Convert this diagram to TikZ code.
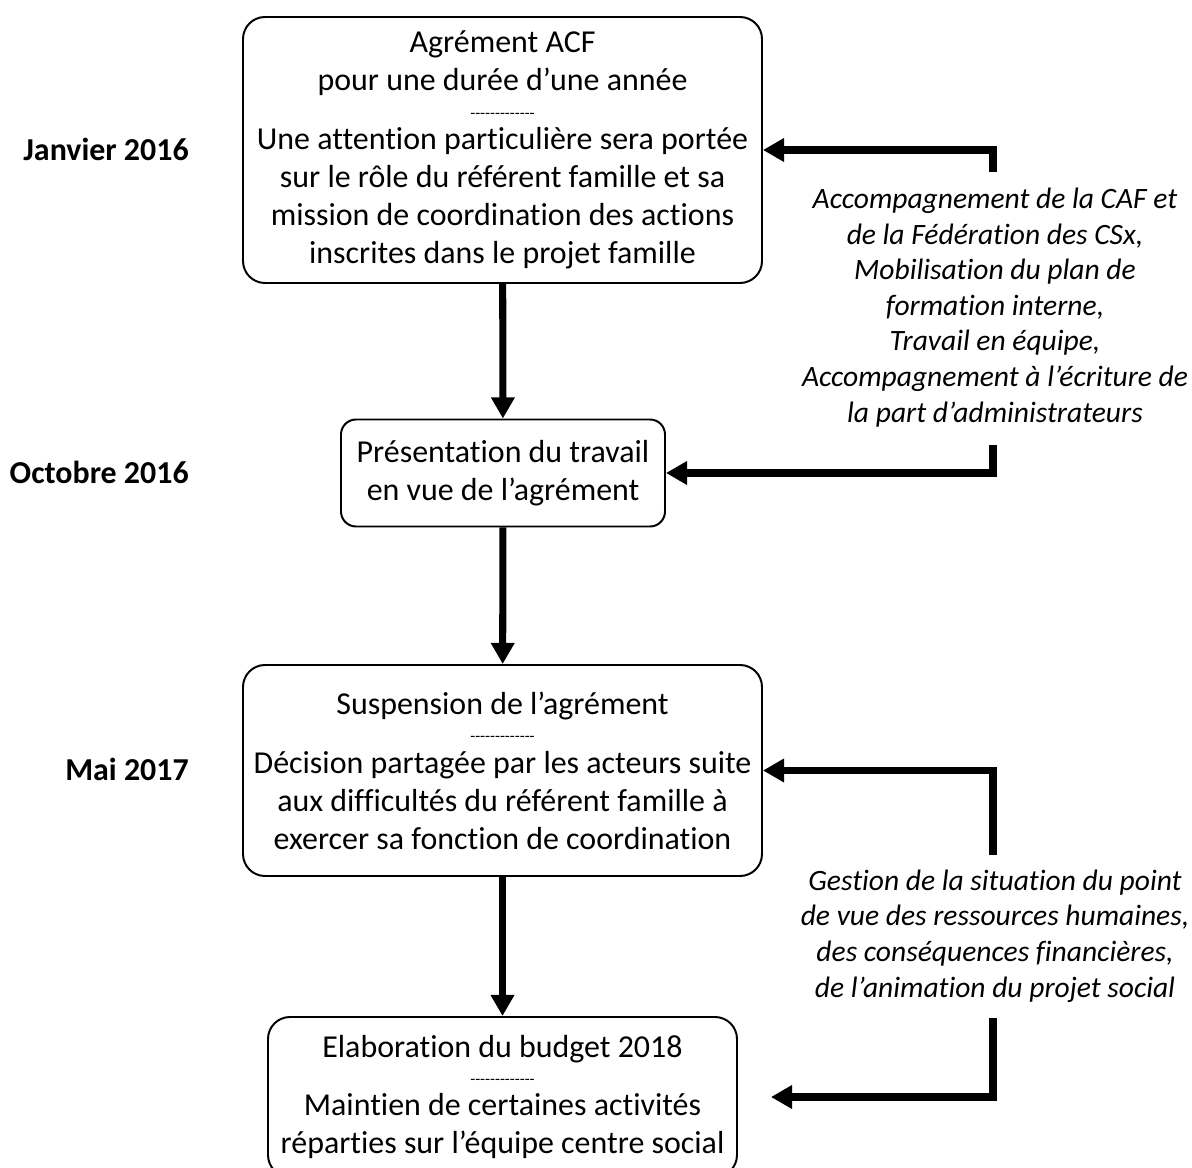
\documentclass[tikz,border=0pt]{standalone}
\usepackage{fontspec}
\setmainfont{Carlito}[Ligatures={NoCommon, TeXOff}]
\usepackage{tikz}
\usetikzlibrary{arrows.meta, positioning, calc}

\newcommand{\pxl}{0.025cm}
\newcommand{\sepline}{{\fontsize{11.5}{11.5}\selectfont -------------}}

\begin{document}
\begin{tikzpicture}[x=0.025cm, y=-0.025cm,
    box/.style={draw, line width=1.4pt, rounded corners=22*\pxl, align=center, inner sep=0pt,
      font=\fontsize{22.7}{27}\selectfont},
    aside/.style={align=center, font=\fontsize{21}{25.3}\selectfont\itshape},
    datelabel/.style={anchor=east, inner sep=0pt, font=\fontsize{22.7}{27}\selectfont\bfseries},
    flow/.style={line width=5pt, -{Triangle[width=16pt, length=15pt]}}]
  \clip (0,0) rectangle (1192,1168);

  % boxes of the timeline
  \node[box, minimum width=519*\pxl, minimum height=266*\pxl] (acf) at (502.5,150)
    {Agrément ACF\\pour une durée d’une année\\[-0.26cm]\sepline\\[-0.165cm]
     Une attention particulière sera portée\\sur le rôle du référent famille et sa\\
     mission de coordination des actions\\inscrites dans le projet famille};
  \node[box, rounded corners=15*\pxl, minimum width=324*\pxl, minimum height=107*\pxl] (pres) at (503,473)
    {Présentation du travail\\en vue de l’agrément};
  \node[box, minimum width=519*\pxl, minimum height=211*\pxl] (susp) at (502.5,770.5)
    {Suspension de l’agrément\\[-0.26cm]\sepline\\[-0.165cm]
     Décision partagée par les acteurs suite\\aux difficultés du référent famille à\\
     exercer sa fonction de coordination};
  \node[box, minimum width=469*\pxl, minimum height=160*\pxl] (bud) at (502.5,1097)
    {Elaboration du budget 2018\\[-0.26cm]\sepline\\[-0.165cm]
     Maintien de certaines activités\\réparties sur l’équipe centre social};

  % dates
  \node[datelabel] (jan) at (189,149) {Janvier 2016};
  \node[datelabel] (oct) at (189,472) {Octobre 2016};
  \node[datelabel] (mai) at (189,769) {Mai 2017};

  % side notes
  \node[aside] (help) at (995,307.5)
    {Accompagnement de la CAF et\\de la Fédération des CSx,\\Mobilisation du plan de\\
     formation interne,\\Travail en équipe,\\Accompagnement à l’écriture de\\
     la part d’administrateurs};
  \node[aside] (gest) at (995,936)
    {Gestion de la situation du point\\de vue des ressources humaines,\\
     des conséquences financières,\\de l’animation du projet social};

  \coordinate (h1) at (993,172);
  \coordinate (h2) at (993,445);
  \coordinate (g1) at (993,855);
  \coordinate (g2) at (993,1018);

  \draw[flow] (acf) -- (pres);
  \draw[flow] (pres) -- (susp);
  \draw[flow] (susp) -- (bud);

  \draw[flow] (h1) |- (acf);
  \draw[flow] (h2) |- (pres);
  \draw[flow] (g1) |- (susp);
  \draw[flow, shorten >=33*\pxl] (g2) |- (bud);
\end{tikzpicture}
\end{document}
